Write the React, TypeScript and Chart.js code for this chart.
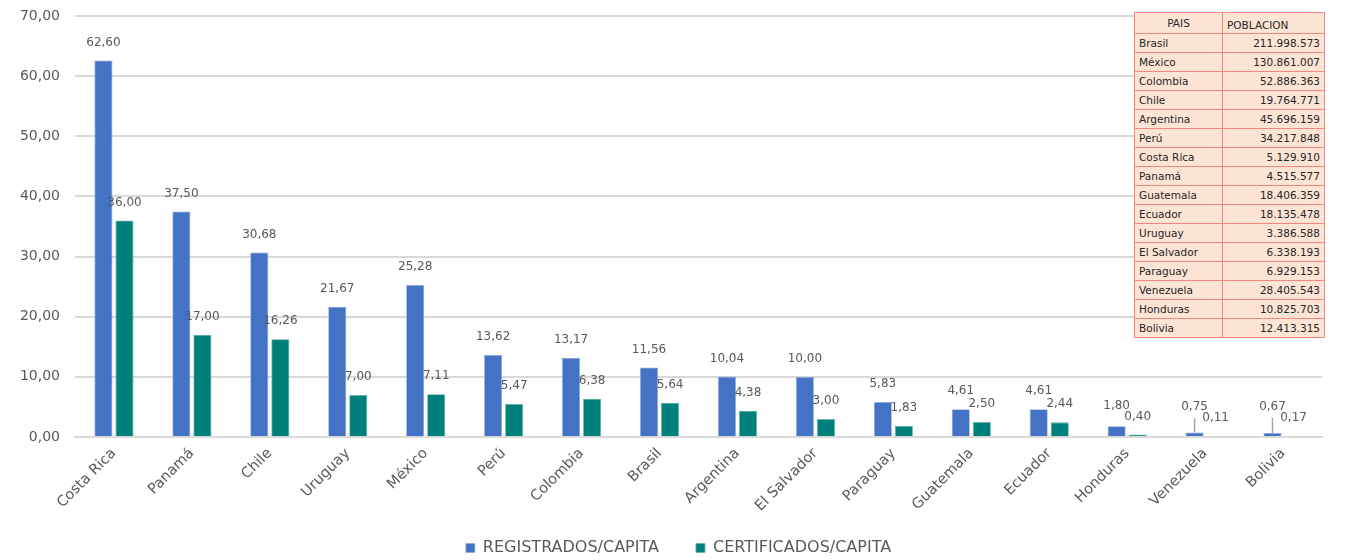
import React, { useEffect, useRef } from "react";
import { Chart, registerables } from "chart.js";

Chart.register(...registerables);

// Countries on the category axis, in chart order
const paises = [
  "Costa Rica", "Panamá", "Chile", "Uruguay", "México", "Perú", "Colombia", "Brasil",
  "Argentina", "El Salvador", "Paraguay", "Guatemala", "Ecuador", "Honduras", "Venezuela", "Bolivia",
];

// Per-capita figures
const registrados = [62.6, 37.5, 30.68, 21.67, 25.28, 13.62, 13.17, 11.56, 10.04, 10.0, 5.83, 4.61, 4.61, 1.8, 0.75, 0.67];
const certificados = [36.0, 17.0, 16.26, 7.0, 7.11, 5.47, 6.38, 5.64, 4.38, 3.0, 1.83, 2.5, 2.44, 0.4, 0.11, 0.17];

// Population table
const tablaPaises = [
  "Brasil", "México", "Colombia", "Chile", "Argentina", "Perú", "Costa Rica", "Panamá",
  "Guatemala", "Ecuador", "Uruguay", "El Salvador", "Paraguay", "Venezuela", "Honduras", "Bolivia",
];
const tablaPoblacion = [
  "211.998.573", "130.861.007", "52.886.363", "19.764.771", "45.696.159", "34.217.848", "5.129.910", "4.515.577",
  "18.406.359", "18.135.478", "3.386.588", "6.338.193", "6.929.153", "28.405.543", "10.825.703", "12.413.315",
];

const FONT = "'DejaVu Sans', sans-serif";
const GRAY_TEXT = "#595959";

const fmt = (v: number) => v.toFixed(2).replace(".", ",");

// Value labels above each bar; a blue label that would collide with its teal
// neighbour is lifted and tied back to its bar with a leader line.
const valueLabels = {
  id: "valueLabels",
  afterLayout(chart: any) {
    // let the rotated country names run below the axis box without being clipped
    const x = chart.scales.x;
    if (x) x.bottom = chart.height;
    // centre the legend under the page rather than under the plot area
    const lg = chart.legend;
    if (lg) {
      lg.left -= 20;
      lg.right -= 20;
    }
  },
  afterDatasetsDraw(chart: any) {
    const ctx = chart.ctx;
    ctx.save();
    ctx.font = `12px ${FONT}`;
    ctx.textAlign = "center";
    ctx.textBaseline = "middle";
    const m0 = chart.getDatasetMeta(0);
    const m1 = chart.getDatasetMeta(1);
    const ds = chart.data.datasets;
    const n = chart.data.labels.length;
    for (let j = 0; j < n; j++) {
      const b0 = m0.data[j];
      const b1 = m1.data[j];
      const t0 = fmt(ds[0].data[j]);
      const t1 = fmt(ds[1].data[j]);
      const w0 = ctx.measureText(t0).width;
      const w1 = ctx.measureText(t1).width;
      const y1 = b1.y - 18;
      let y0 = b0.y - 18;
      const natural = y0;
      if (Math.abs(b0.x - b1.x) < (w0 + w1) / 2 && y0 > y1 - 11) {
        y0 = y1 - 11;
      }
      if (natural - y0 > 4) {
        ctx.strokeStyle = "#a6a6a6";
        ctx.lineWidth = 1.5;
        ctx.beginPath();
        ctx.moveTo(b0.x, y0 + 11);
        ctx.lineTo(b0.x, b0.y);
        ctx.stroke();
      }
      ctx.fillStyle = GRAY_TEXT;
      ctx.fillText(t0, b0.x, y0);
      ctx.fillText(t1, b1.x, y1);
    }
    ctx.restore();
  },
};

function TablaPoblacion() {
  const border = "1.5px solid #f7877e";
  const cell: React.CSSProperties = {
    border,
    padding: "0 4px",
    whiteSpace: "nowrap",
    lineHeight: "normal",
  };
  return (
    <table
      style={{
        position: "absolute",
        left: 1134,
        top: 12,
        width: 190,
        borderCollapse: "collapse",
        background: "#fde4d5",
        fontFamily: FONT,
        fontSize: 10.5,
        color: "#262626",
        tableLayout: "fixed",
      }}
    >
      <colgroup>
        <col style={{ width: 88 }} />
        <col style={{ width: 102 }} />
      </colgroup>
      <thead>
        <tr style={{ height: 21 }}>
          <th style={{ ...cell, fontWeight: "normal", textAlign: "center", verticalAlign: "middle" }}>PAIS</th>
          <th style={{ ...cell, fontWeight: "normal", textAlign: "left", verticalAlign: "bottom", paddingBottom: 2 }}>POBLACION</th>
        </tr>
      </thead>
      <tbody>
        {tablaPaises.map((p, i) => (
          <tr key={p} style={{ height: 19 }}>
            <td style={{ ...cell, textAlign: "left" }}>{p}</td>
            <td style={{ ...cell, textAlign: "right" }}>{tablaPoblacion[i]}</td>
          </tr>
        ))}
      </tbody>
    </table>
  );
}

export default function App() {
  const canvasRef = useRef<HTMLCanvasElement | null>(null);

  useEffect(() => {
    if (!canvasRef.current) return;
    const chart = new Chart(canvasRef.current, {
      type: "bar",
      data: {
        labels: paises,
        datasets: [
          {
            label: "REGISTRADOS/CAPITA",
            data: registrados,
            backgroundColor: "#4472c4",
            borderColor: "#8eaadf",
            borderWidth: 0.8,
            categoryPercentage: 0.54,
            barPercentage: 0.86,
          },
          {
            label: "CERTIFICADOS/CAPITA",
            data: certificados,
            backgroundColor: "#00807a",
            borderColor: "#5fb3ae",
            borderWidth: 0.8,
            categoryPercentage: 0.54,
            barPercentage: 0.86,
          },
        ],
      },
      options: {
        animation: false,
        responsive: true,
        maintainAspectRatio: false,
        layout: { padding: { left: 0, right: 27, top: 16, bottom: -6 } },
        plugins: {
          tooltip: { enabled: false },
          legend: {
            position: "bottom",
            fullSize: false,
            labels: {
              boxWidth: 9,
              boxHeight: 9,
              padding: 37,
              color: GRAY_TEXT,
              font: { family: FONT, size: 16 },
            },
          },
        },
        scales: {
          x: {
            offset: true,
            grid: { display: false },
            border: { color: "#d9d9d9", width: 2 },
            ticks: {
              color: GRAY_TEXT,
              font: { family: FONT, size: 14.5 },
              minRotation: 45,
              maxRotation: 45,
              padding: 0,
              autoSkip: false,
            },
            afterFit(scale: any) {
              scale.height = 66;
            },
          },
          y: {
            min: 0,
            max: 70,
            ticks: {
              stepSize: 10,
              color: GRAY_TEXT,
              font: { family: FONT, size: 14 },
              padding: 15,
              callback: (v: any) => fmt(Number(v)),
            },
            grid: { color: "#d9d9d9", lineWidth: 2, drawTicks: false },
            border: { display: false },
            afterFit(scale: any) {
              scale.width = 75;
              scale.paddingTop = 0;
              scale.paddingBottom = 0;
            },
          },
        },
      },
      plugins: [valueLabels],
    });
    return () => chart.destroy();
  }, []);

  return (
    <div style={{ position: "fixed", left: 0, top: 0, width: 1349, height: 560, background: "#fff" }}>
      <canvas ref={canvasRef} />
      <TablaPoblacion />
    </div>
  );
}
